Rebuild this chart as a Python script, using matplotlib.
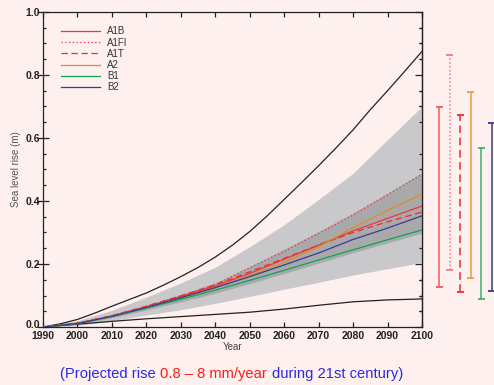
import matplotlib
matplotlib.use('Agg')
import matplotlib.pyplot as plt
import matplotlib.transforms as mtransforms
from matplotlib.ticker import MultipleLocator

# ---------------- data ----------------
years = [1990, 2000, 2010, 2020, 2030, 2040, 2050, 2060, 2070, 2080, 2090, 2100]

# outer envelope (light grey) and range of AOGCM averages (dark grey)
env_upper = [0.0, 0.020, 0.053, 0.095, 0.140, 0.190, 0.255, 0.325, 0.405, 0.488, 0.595, 0.700]
env_lower = [0.0, 0.005, 0.020, 0.038, 0.055, 0.075, 0.097, 0.120, 0.142, 0.165, 0.185, 0.205]
avg_upper = [0.0, 0.013, 0.038, 0.069, 0.103, 0.140, 0.192, 0.247, 0.303, 0.362, 0.425, 0.490]
avg_lower = [0.0, 0.009, 0.029, 0.054, 0.080, 0.107, 0.138, 0.170, 0.203, 0.236, 0.267, 0.298]

# bounds including land-ice uncertainty (black)
years_fine = [1990, 1995, 2000, 2005, 2010, 2015, 2020, 2025, 2030, 2035, 2040, 2045,
              2050, 2055, 2060, 2065, 2070, 2075, 2080, 2085, 2090, 2095, 2100]
bound_upper = [0.0, 0.010, 0.024, 0.044, 0.066, 0.087, 0.108, 0.133, 0.160, 0.189, 0.222, 0.260,
               0.303, 0.352, 0.405, 0.458, 0.512, 0.568, 0.626, 0.690, 0.750, 0.812, 0.875]
bound_lower = [0.0, 0.009, 0.018, 0.026, 0.033, 0.040, 0.047, 0.057, 0.069, 0.080, 0.086, 0.089]

# scenario averages
scenarios = ['A1B', 'A1FI', 'A1T', 'A2', 'B1', 'B2']
a1b  = [0.0, 0.012, 0.035, 0.064, 0.096, 0.130, 0.170, 0.215, 0.260, 0.305, 0.345, 0.384]
a1fi = [0.0, 0.012, 0.036, 0.066, 0.099, 0.135, 0.188, 0.240, 0.297, 0.355, 0.420, 0.485]
a1t  = [0.0, 0.012, 0.036, 0.066, 0.099, 0.134, 0.175, 0.218, 0.260, 0.300, 0.334, 0.365]
a2   = [0.0, 0.011, 0.034, 0.062, 0.092, 0.124, 0.163, 0.205, 0.255, 0.315, 0.370, 0.422]
b1   = [0.0, 0.011, 0.033, 0.060, 0.088, 0.117, 0.148, 0.180, 0.213, 0.245, 0.277, 0.308]
b2   = [0.0, 0.011, 0.034, 0.062, 0.093, 0.125, 0.160, 0.197, 0.235, 0.278, 0.314, 0.353]
series = [a1b, a1fi, a1t, a2, b1, b2]

# 2100 ranges per scenario (bars at right)
bar_low  = [0.127, 0.180, 0.111, 0.154, 0.090, 0.115]
bar_high = [0.697, 0.862, 0.672, 0.745, 0.568, 0.647]

# ---------------- styles ----------------
bg = '#fdf0ee'
line_colors = ['#f0353a', '#f03038', '#f02a2a', '#d8901e', '#08a650', '#3a3a98']
line_styles = ['-', (0, (1, 2)), (0, (5, 3)), '-', '-', '-']
bar_colors = ['#f05a5e', '#f47a80', '#ee2a2e', '#e8a040', '#3db070', '#3a3a88']
bar_styles = ['-', (0, (1, 1.5)), (0, (5, 3)), '-', '-', '-']

plt.rcParams['font.family'] = ['Liberation Sans', 'DejaVu Sans']

W, H = 494, 385
fig = plt.figure(figsize=(W / 100, H / 100), dpi=100, facecolor=bg)
ax = fig.add_axes([43 / W, 1 - 327 / H, 379 / W, 315 / H])
ax.set_facecolor(bg)

ax.fill_between(years, env_lower, env_upper, color='#c9c9cb', lw=0, zorder=1)
ax.fill_between(years, avg_lower, avg_upper, color='#a9a9ac', lw=0, zorder=2)
ax.plot(years_fine, bound_upper, color='#222222', lw=0.9, zorder=3)
ax.plot(years, bound_lower, color='#222222', lw=0.9, zorder=3)

order = [4, 5, 2, 0, 3, 1]
for i in order:
    ax.plot(years, series[i], color=line_colors[i], ls=line_styles[i], lw=0.9,
            label=scenarios[i], zorder=4 + i * 0.1)

ax.set_xlim(1990, 2100)
ax.set_ylim(0, 1)

ax.xaxis.set_major_locator(MultipleLocator(10))
ax.yaxis.set_major_locator(MultipleLocator(0.2))
ax.yaxis.set_minor_locator(MultipleLocator(0.05))
ax.yaxis.set_major_formatter(matplotlib.ticker.FormatStrFormatter('%.1f'))

ax.tick_params(axis='x', which='major', direction='in', length=3.8, width=0.9,
               top=True, bottom=True, pad=3, labelsize=7.5, colors='#222222')
ax.tick_params(axis='y', which='major', direction='inout', length=8.5, width=0.9,
               left=True, right=False, pad=-2.2, labelsize=7.5, colors='#222222')
ax.tick_params(axis='y', which='minor', direction='in', length=2.5, width=0.9,
               left=True, right=True, colors='#222222')
for lab in ax.get_xticklabels() + ax.get_yticklabels():
    lab.set_fontweight('bold')

# the "0.0" label sits slightly above the axis line, as in the reference
fig.canvas.draw()
ylabs = ax.get_yticklabels()
shift = mtransforms.ScaledTranslation(0, 3 / 100, fig.dpi_scale_trans)
for lab in ylabs:
    if lab.get_text() == '0.0':
        lab.set_transform(lab.get_transform() + shift)

# right-side ticks (inward, majors longer)
ax2y = ax.secondary_yaxis('right')
ax2y.yaxis.set_major_locator(MultipleLocator(0.2))
ax2y.tick_params(axis='y', which='major', direction='in', length=5, width=0.9,
                 labelright=False, colors='#222222')
ax2y.yaxis.set_minor_locator(MultipleLocator(0.05))
ax2y.tick_params(axis='y', which='minor', direction='in', length=2.5, width=0.9,
                 colors='#222222')
ax2y.spines['right'].set_linewidth(0.9)
ax2y.spines['right'].set_color('#222222')

for s in ax.spines.values():
    s.set_linewidth(0.9)
    s.set_color('#222222')

ax.set_xlabel('Year', fontsize=7, color='#444444', labelpad=0.5)
ax.set_ylabel('Sea level rise (m)', fontsize=7, color='#555555', labelpad=3)

handles, labels = ax.get_legend_handles_labels()
hmap = dict(zip(labels, handles))
leg = ax.legend([hmap[s] for s in scenarios], scenarios, loc='upper left',
                bbox_to_anchor=(0.047, 0.954), frameon=False, fontsize=7,
                handlelength=4.0, handletextpad=0.75, labelspacing=0.12,
                borderpad=0, borderaxespad=0)
for t in leg.get_texts():
    t.set_color('#333333')

# ---------------- right-hand range bars ----------------
axb = fig.add_axes([434.1 / W, 1 - 327 / H, 62.9 / W, 315 / H])
axb.set_xlim(-0.5, 5.5)
axb.set_ylim(0, 1)
axb.axis('off')
for i in range(len(scenarios)):
    axb.vlines(i, bar_low[i], bar_high[i], colors=bar_colors[i],
               linestyles=[bar_styles[i]], lw=1.1, clip_on=False)
    axb.hlines([bar_low[i], bar_high[i]], i - 0.33, i + 0.33,
               colors=bar_colors[i], lw=1.3, clip_on=False)

# ---------------- caption ----------------
parts = [('(Projected rise', '#2a2ae6'), ('0.8 \u2013 8 mm/year', '#ff1a1a'),
         ('during 21st century)', '#2a2ae6')]
fig.canvas.draw()
renderer = fig.canvas.get_renderer()
x = 60 / W
y = 1 - 374 / H
gap = 4.5 / W
for txt, col in parts:
    t = fig.text(x, y, txt, color=col, fontsize=10.6, va='center', ha='left')
    bb = t.get_window_extent(renderer)
    x += bb.width / W + gap

fig.savefig('out.png', dpi=100, facecolor=bg)
